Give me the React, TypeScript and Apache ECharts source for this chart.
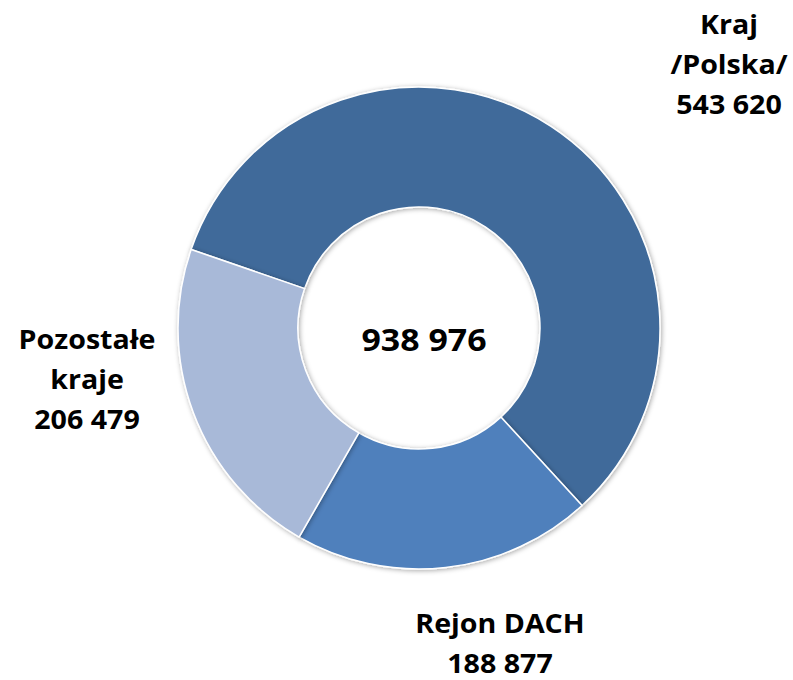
import React, { useEffect, useRef } from "react";
import * as echarts from "echarts";

const categories = ["Kraj\n/Polska/", "Rejon DACH", "Pozostałe\nkraje"];
const values = [543620, 188877, 206479];
const colors = ["#3F6A9A", "#4F80BC", "#A8B9D8"];

const fmt = (n: number) => String(n).replace(/\B(?=(\d{3})+(?!\d))/g, " ");

export default function App() {
  const ref = useRef<HTMLDivElement>(null);
  useEffect(() => {
    if (!ref.current) return;
    const chart = echarts.init(ref.current, null, { renderer: "svg" });
    const total = values.reduce((a, b) => a + b, 0);
    const labelPos = [
      [729, 64],
      [500, 643],
      [87, 379],
    ];
    const font = "'Open Sans', sans-serif";
    const lineGap = 40;
    const labelTexts: any[] = [];
    categories.forEach((c, i) => {
      const lines = (c + "\n" + fmt(values[i])).split("\n");
      const n = lines.length;
      lines.forEach((ln, k) => {
        labelTexts.push({
          type: "text",
          x: labelPos[i][0],
          y: labelPos[i][1] + (k - (n - 1) / 2) * lineGap,
          scaleX: 1.1,
          style: {
            text: ln,
            font: `bold 26px ${font}`,
            lineHeight: 26,
            fill: "#000",
            align: "center",
            verticalAlign: "middle",
          },
        });
      });
    });
    chart.setOption({
      animation: false,
      backgroundColor: "#ffffff",
      series: [
        {
          type: "pie",
          center: [419, 328],
          radius: [121, 241],
          startAngle: 161,
          clockwise: true,
          label: { show: false },
          labelLine: { show: false },
          silent: true,
          itemStyle: {
            borderColor: "#ffffff",
            borderWidth: 1.5,
            shadowBlur: 5,
            shadowColor: "rgba(0,0,0,0.35)",
            shadowOffsetX: 1,
            shadowOffsetY: 1,
          },
          data: categories.map((c, i) => ({
            name: c,
            value: values[i],
            itemStyle: { color: colors[i] },
          })),
        },
      ],
      graphic: [
        {
          type: "text",
          x: 424,
          y: 339,
          scaleX: 1.13,
          style: {
            text: fmt(total),
            font: `bold 30px ${font}`,
            fill: "#000",
            align: "center",
            verticalAlign: "middle",
          },
        },
        ...labelTexts,
      ],
    });
    return () => chart.dispose();
  }, []);
  return (
    <div
      ref={ref}
      style={{ position: "absolute", left: 0, top: 0, width: 793, height: 680 }}
    />
  );
}
